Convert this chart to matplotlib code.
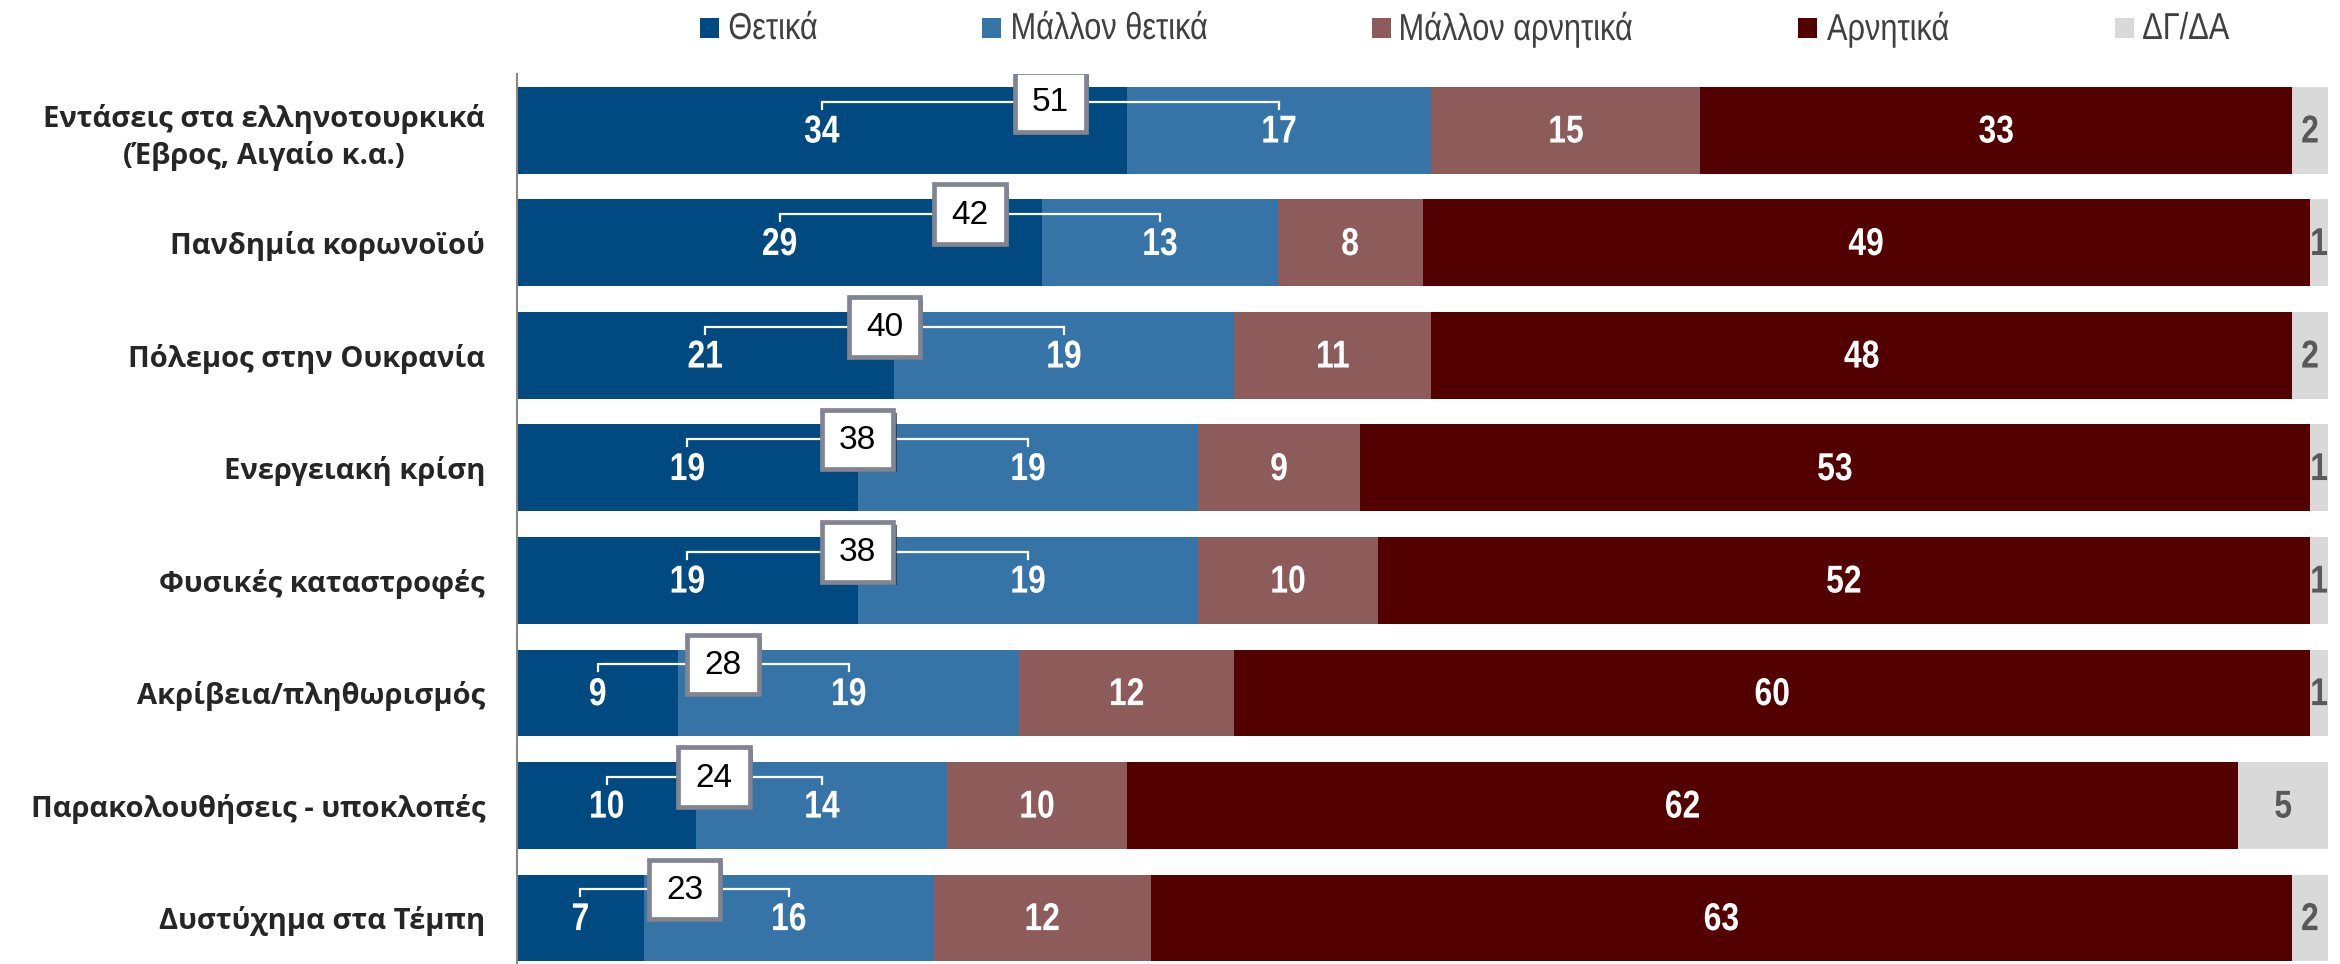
import matplotlib
matplotlib.use("Agg")
import matplotlib.pyplot as plt
from matplotlib.patches import Rectangle
from matplotlib.transforms import Affine2D
import matplotlib.patheffects as pe
import numpy as np

categories = [
    "Εντάσεις στα ελληνοτουρκικά\n(Έβρος, Αιγαίο κ.α.)",
    "Πανδημία κορωνοϊού",
    "Πόλεμος στην Ουκρανία",
    "Ενεργειακή κρίση",
    "Φυσικές καταστροφές",
    "Ακρίβεια/πληθωρισμός",
    "Παρακολουθήσεις - υποκλοπές",
    "Δυστύχημα στα Τέμπη",
]
series_names = ["Θετικά", "Μάλλον θετικά", "Μάλλον αρνητικά", "Αρνητικά", "ΔΓ/ΔΑ"]
thetika = [34, 29, 21, 19, 19, 9, 10, 7]
mallon_thetika = [17, 13, 19, 19, 19, 19, 14, 16]
mallon_arnitika = [15, 8, 11, 9, 10, 12, 10, 12]
arnitika = [33, 49, 48, 53, 52, 60, 62, 63]
dg_da = [2, 1, 2, 1, 1, 1, 5, 2]
positive_total = [51, 42, 40, 38, 38, 28, 24, 23]

colors = ["#014A81", "#3674A8", "#8E5B5B", "#530000", "#D9D9D9"]
label_colors = ["white", "white", "white", "white", "#595959"]

SANS = ["Liberation Sans", "DejaVu Sans"]
CAT_FONT = ["Open Sans", "DejaVu Sans"]


class Condense(pe.AbstractPathEffect):
    """Horizontally condense the glyphs (emulates a 'Narrow' font face)."""

    def __init__(self, sx=0.82, anchor="center"):
        super().__init__()
        self.sx = sx
        self.anchor = anchor

    def draw_path(self, renderer, gc, tpath, affine, rgbFace=None):
        ext = tpath.get_extents(affine)
        cx = (ext.x0 + ext.x1) / 2 if self.anchor == "center" else ext.x0
        aff = affine + Affine2D().translate(-cx, 0).scale(self.sx, 1).translate(cx, 0)
        renderer.draw_path(gc, tpath, aff, rgbFace)


W, H = 2340, 964
fig = plt.figure(figsize=(W / 100, H / 100), dpi=100)
ax = fig.add_axes([517 / W, 0, 1811 / W, 890 / H])

data = np.array([thetika, mallon_thetika, mallon_arnitika, arnitika, dg_da], dtype=float)
totals = data.sum(axis=0)
pct = data / totals * 100
y = np.arange(len(categories))
bh = 0.77

left = np.zeros(len(categories))
centers = []
for k in range(len(series_names)):
    ax.barh(y, pct[k], left=left, height=bh, color=colors[k], linewidth=0, zorder=2)
    c = left + pct[k] / 2
    centers.append(c)
    for i in range(len(categories)):
        ax.text(c[i], y[i] + 0.02, f"{int(data[k][i])}", ha="center", va="center",
                fontsize=28, fontweight="bold", color=label_colors[k],
                family=SANS, zorder=4, path_effects=[Condense(0.82)])
    left = left + pct[k]

# brackets with totals of positive answers
dy = 0.253
tick = 0.06
box_w = 3.95    # in x data units
box_h = 0.53    # in y data units
for i in range(len(categories)):
    x1 = centers[0][i]
    x2 = centers[1][i]
    yb = y[i] - dy
    xm = (x1 + x2) / 2
    ax.plot([x1, x1, x2, x2], [yb + tick, yb, yb, yb + tick], color="white",
            lw=1.6, zorder=5, solid_joinstyle="miter")
    r = Rectangle((xm - box_w / 2, yb - box_h / 2), box_w, box_h, fc="white",
                  ec="#808591", lw=3.4, zorder=6)
    r.set_path_effects([
        pe.SimplePatchShadow(offset=(2.2, -2.2), shadow_rgbFace="#1c2c44", alpha=0.7),
        pe.Normal()])
    ax.add_patch(r)
    ax.text(xm, yb + 0.01, f"{positive_total[i]}", ha="center", va="center",
            fontsize=24, color="black", family=SANS, zorder=7)

ax.set_xlim(0, 100)
ax.set_ylim(7.41, -0.5)
ax.set_yticks(y)
ax.set_yticklabels(categories, fontsize=21, fontweight="bold", color="#262626",
                   family=CAT_FONT, multialignment="center", linespacing=1.3)
ax.tick_params(axis="y", length=0, pad=23)
ax.set_xticks([])
for s in ["top", "right", "bottom"]:
    ax.spines[s].set_visible(False)
ax.spines["left"].set_color("#868686")
ax.spines["left"].set_linewidth(1.5)
ax.spines["left"].set_zorder(8)

# legend (placed item by item, narrow face emulated)
leg_square_x = [700, 982, 1372, 1798, 2115]
leg_text_x = [728, 1010, 1398, 1827, 2142]
leg_y = 28
sq = 19
for k in range(len(series_names)):
    fig.patches.append(Rectangle((leg_square_x[k] / W, 1 - (leg_y + sq / 2) / H),
                                 sq / W, sq / H, transform=fig.transFigure,
                                 fc=colors[k], ec="none", figure=fig))
    fig.text(leg_text_x[k] / W, 1 - (leg_y + 1) / H, series_names[k], ha="left",
             va="center", fontsize=27, color="#404040", family=SANS,
             path_effects=[Condense(0.82, anchor="left")])

fig.savefig("out.png", dpi=100)
